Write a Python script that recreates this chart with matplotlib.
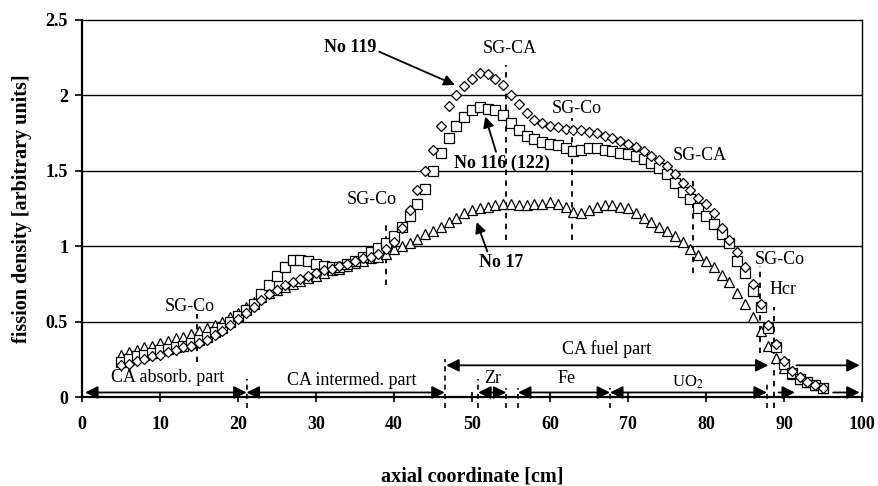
import numpy as np
import matplotlib
matplotlib.use("Agg")
import matplotlib.pyplot as plt

# ------------------------------------------------------------
# data (axial coordinate in cm)
# ------------------------------------------------------------
z = list(range(5, 96))

no119 = [0.21, 0.22, 0.24, 0.25, 0.27, 0.28, 0.30, 0.31, 0.33, 0.34,
         0.36, 0.38, 0.41, 0.44, 0.48, 0.52, 0.56, 0.60, 0.64, 0.68,
         0.71, 0.74, 0.76, 0.78, 0.80, 0.82, 0.84, 0.85, 0.87, 0.88,
         0.90, 0.92, 0.93, 0.95, 0.98, 1.03, 1.12, 1.24, 1.37, 1.50,
         1.64, 1.80, 1.93, 2.00, 2.06, 2.11, 2.15, 2.14, 2.11, 2.07,
         2.00, 1.94, 1.88, 1.84, 1.82, 1.80, 1.79, 1.78, 1.77, 1.77,
         1.76, 1.75, 1.73, 1.72, 1.70, 1.68, 1.66, 1.63, 1.60, 1.57,
         1.53, 1.48, 1.42, 1.37, 1.32, 1.28, 1.22, 1.12, 1.04, 0.96,
         0.86, 0.75, 0.62, 0.48, 0.35, 0.24, 0.17, 0.13, 0.10, 0.08,
         0.06]

no116 = [0.23, 0.25, 0.27, 0.28, 0.29, 0.31, 0.32, 0.33, 0.34, 0.36,
         0.38, 0.40, 0.43, 0.46, 0.50, 0.54, 0.58, 0.62, 0.68, 0.74,
         0.80, 0.86, 0.91, 0.91, 0.90, 0.88, 0.87, 0.86, 0.86, 0.88,
         0.90, 0.93, 0.96, 0.99, 1.02, 1.07, 1.13, 1.20, 1.28, 1.38,
         1.50, 1.62, 1.72, 1.80, 1.86, 1.90, 1.92, 1.91, 1.90, 1.87,
         1.82, 1.77, 1.73, 1.71, 1.69, 1.68, 1.67, 1.65, 1.63, 1.64,
         1.65, 1.65, 1.64, 1.63, 1.62, 1.61, 1.60, 1.58, 1.55, 1.52,
         1.48, 1.42, 1.36, 1.31, 1.25, 1.20, 1.15, 1.08, 1.02, 0.90,
         0.82, 0.70, 0.60, 0.46, 0.33, 0.22, 0.16, 0.12, 0.10, 0.08,
         0.06]

no17 = [0.28, 0.30, 0.31, 0.33, 0.34, 0.36, 0.37, 0.39, 0.40, 0.42,
        0.44, 0.46, 0.48, 0.50, 0.53, 0.56, 0.60, 0.63, 0.66, 0.69,
        0.71, 0.73, 0.75, 0.77, 0.79, 0.80, 0.82, 0.84, 0.85, 0.87,
        0.89, 0.90, 0.92, 0.93, 0.95, 0.98, 1.00, 1.02, 1.05, 1.08,
        1.10, 1.13, 1.16, 1.19, 1.22, 1.24, 1.25, 1.26, 1.27, 1.28,
        1.28, 1.27, 1.27, 1.28, 1.28, 1.29, 1.28, 1.26, 1.23, 1.22,
        1.24, 1.26, 1.27, 1.27, 1.26, 1.25, 1.22, 1.19, 1.16, 1.13,
        1.10, 1.07, 1.03, 0.98, 0.94, 0.90, 0.86, 0.81, 0.76, 0.69,
        0.62, 0.53, 0.44, 0.34, 0.26, 0.19, 0.15, 0.12, 0.10, 0.08,
        0.06]

# SG positions (dashed markers): x, y from, y to
sg_x = [14.7, 39.0, 54.4, 62.8, 78.3, 86.9, 88.7]
sg_lo = [0.23, 0.74, 1.04, 1.04, 0.82, 0.29, -0.07]
sg_hi = [0.55, 1.15, 2.20, 1.85, 1.45, 0.87, 0.60]

sg_text = ["SG-Co", "SG-Co", "SG-CA", "SG-Co", "SG-CA", "SG-Co", "Hcr"]
sg_tx = [13.8, 37.1, 54.9, 63.4, 79.2, 89.4, 89.9]
sg_ty = [0.60, 1.31, 2.31, 1.91, 1.60, 0.91, 0.71]

# region boundaries near the axis
bnd_x = [21.1, 46.6, 50.8, 54.4, 55.9, 67.7, 87.8]
bnd_hi = [0.12, 0.25, 0.12, 0.06, 0.06, 0.06, 0.10]

# ------------------------------------------------------------
# figure
# ------------------------------------------------------------
plt.rcParams['font.family'] = ['Liberation Serif', 'DejaVu Serif']
plt.rcParams['mathtext.fontset'] = 'stix'

fig = plt.figure(figsize=(8.79, 4.86), dpi=100)
ax = fig.add_axes([82/879, 1-397/486, 780/879, 377/486])

ax.set_xlim(0, 100)
ax.set_ylim(0, 2.5)

# grid
for g in [0.5, 1.0, 1.5, 2.0]:
    ax.axhline(g, color='black', lw=1.0, zorder=1)

# dashed SG lines
for x0, lo, hi in zip(sg_x, sg_lo, sg_hi):
    ax.plot([x0, x0], [lo, hi], color='black', lw=1.3,
            linestyle=(0, (3, 3)), zorder=2, clip_on=False)

for x0, hi in zip(bnd_x, bnd_hi):
    ax.plot([x0, x0], [-0.07, hi], color='black', lw=1.2,
            linestyle=(0, (3, 2.5)), zorder=2, clip_on=False)

# series
ax.plot(z, no17, linestyle='none', marker='^', ms=6.5, mfc='white',
        mec='black', mew=0.9, zorder=3)
ax.plot(z, no116, linestyle='none', marker='s', ms=6.5, mfc='white',
        mec='black', mew=0.9, zorder=4)
ax.plot(z, no119, linestyle='none', marker='D', ms=5, mfc='white',
        mec='black', mew=0.9, zorder=5)

# SG labels
for t, tx, ty in zip(sg_text, sg_tx, sg_ty):
    ax.text(tx, ty, t, ha='center', va='center', fontsize=13, zorder=6)

# curve labels
arr = dict(arrowstyle='-|>', color='black', lw=1.3, mutation_scale=16,
           shrinkA=0, shrinkB=0)
ax.annotate("No 119", xy=(47.8, 2.07), xytext=(34.4, 2.32),
            fontsize=13, fontweight='bold', ha='center', va='center',
            arrowprops=dict(arr, relpos=(1.0, 0.3)))
ax.annotate("No 116 (122)", xy=(51.7, 1.86), xytext=(53.8, 1.55),
            fontsize=13, fontweight='bold', ha='center', va='center',
            arrowprops=dict(arr, relpos=(0.45, 1.0)))
ax.annotate("No 17", xy=(50.6, 1.16), xytext=(53.8, 0.89),
            fontsize=13, fontweight='bold', ha='center', va='center',
            arrowprops=dict(arr, relpos=(0.2, 1.0)))

# part arrows
dbl = dict(arrowstyle='<|-|>', color='black', lw=1.3, mutation_scale=19,
           shrinkA=0, shrinkB=0)
one = dict(arrowstyle='-|>', color='black', lw=1.3, mutation_scale=19,
           shrinkA=0, shrinkB=0)

row0 = 0.03
row1 = 0.21
ax.annotate("", xy=(0.4, row0), xytext=(21.1, row0), arrowprops=dbl,
            annotation_clip=False)
ax.annotate("", xy=(21.1, row0), xytext=(46.5, row0), arrowprops=dbl)
ax.annotate("", xy=(50.8, row0), xytext=(54.4, row0), arrowprops=dbl)
ax.annotate("", xy=(55.9, row0), xytext=(67.7, row0), arrowprops=dbl)
ax.annotate("", xy=(67.7, row0), xytext=(87.8, row0), arrowprops=dbl)
ax.annotate("", xy=(91.4, row0), xytext=(89.3, row0), arrowprops=one)
ax.annotate("", xy=(99.7, row0), xytext=(96.3, row0), arrowprops=one)
ax.annotate("", xy=(46.7, row1), xytext=(88.0, row1), arrowprops=dbl)
ax.annotate("", xy=(99.7, row1), xytext=(91.6, row1), arrowprops=one)

ax.text(11.0, 0.13, "CA absorb. part", ha='center', va='center', fontsize=13)
ax.text(34.6, 0.11, "CA intermed. part", ha='center', va='center', fontsize=13)
ax.text(67.3, 0.32, "CA fuel part", ha='center', va='center', fontsize=13)
ax.text(52.7, 0.12, "Zr", ha='center', va='center', fontsize=13)
ax.text(62.1, 0.12, "Fe", ha='center', va='center', fontsize=13)
ax.text(77.7, 0.10, r"UO$_2$", ha='center', va='center', fontsize=12)

# axes styling
ax.set_xticks(range(0, 101, 10))
ax.set_yticks([0, 0.5, 1, 1.5, 2, 2.5])
ax.set_yticklabels(["0", "0.5", "1", "1.5", "2", "2.5"])
ax.tick_params(axis='x', direction='inout', length=7, width=1.2, pad=10,
               labelsize=13)
ax.tick_params(axis='y', direction='out', length=5, width=1.2, pad=5,
               labelsize=13)
for lab in ax.get_xticklabels() + ax.get_yticklabels():
    lab.set_fontweight('bold')

for s in ax.spines.values():
    s.set_linewidth(1.0)
ax.spines['left'].set_linewidth(1.6)
ax.spines['bottom'].set_linewidth(1.6)

ax.set_xlabel("axial coordinate [cm]", fontsize=14.5, fontweight='bold',
              labelpad=24)
ax.set_ylabel("fission density [arbitrary units]", fontsize=14.5,
              fontweight='bold', labelpad=10)

fig.savefig("out.png", dpi=100)
